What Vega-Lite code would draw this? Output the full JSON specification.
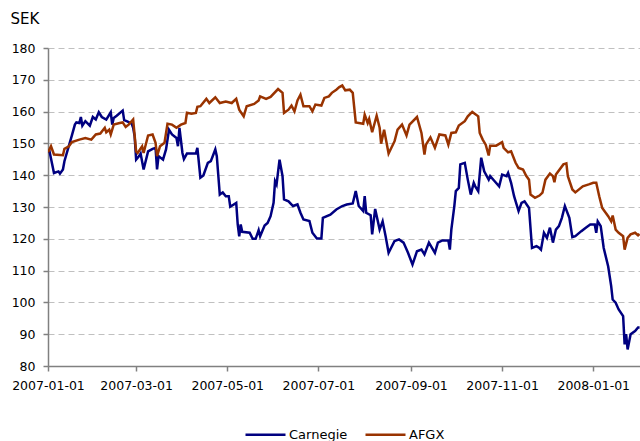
{
  "$schema": "https://vega.github.io/schema/vega-lite/v6.json",
  "autosize": {"type": "none"},
  "width": 592,
  "height": 318,
  "padding": {"left": 48, "top": 48, "right": 0, "bottom": 75},
  "background": "white",
  "config": {
    "view": {"stroke": null},
    "font": "DejaVu Sans"
  },
  "data": {
    "values": [
      {"date": "2007/01/01", "s": "Carnegie", "v": 147.5},
      {"date": "2007/01/02", "s": "Carnegie", "v": 147.5},
      {"date": "2007/01/05", "s": "Carnegie", "v": 140.7},
      {"date": "2007/01/08", "s": "Carnegie", "v": 141.2},
      {"date": "2007/01/09", "s": "Carnegie", "v": 140.5},
      {"date": "2007/01/11", "s": "Carnegie", "v": 141.8},
      {"date": "2007/01/12", "s": "Carnegie", "v": 144.4},
      {"date": "2007/01/17", "s": "Carnegie", "v": 152.5},
      {"date": "2007/01/19", "s": "Carnegie", "v": 155.9},
      {"date": "2007/01/20", "s": "Carnegie", "v": 156.6},
      {"date": "2007/01/22", "s": "Carnegie", "v": 156.4},
      {"date": "2007/01/23", "s": "Carnegie", "v": 158.3},
      {"date": "2007/01/24", "s": "Carnegie", "v": 155.6},
      {"date": "2007/01/26", "s": "Carnegie", "v": 157.0},
      {"date": "2007/01/29", "s": "Carnegie", "v": 155.6},
      {"date": "2007/01/31", "s": "Carnegie", "v": 158.3},
      {"date": "2007/02/02", "s": "Carnegie", "v": 157.5},
      {"date": "2007/02/04", "s": "Carnegie", "v": 159.8},
      {"date": "2007/02/06", "s": "Carnegie", "v": 158.3},
      {"date": "2007/02/09", "s": "Carnegie", "v": 157.5},
      {"date": "2007/02/12", "s": "Carnegie", "v": 159.8},
      {"date": "2007/02/13", "s": "Carnegie", "v": 155.9},
      {"date": "2007/02/14", "s": "Carnegie", "v": 158.0},
      {"date": "2007/02/16", "s": "Carnegie", "v": 158.7},
      {"date": "2007/02/20", "s": "Carnegie", "v": 160.3},
      {"date": "2007/02/21", "s": "Carnegie", "v": 157.3},
      {"date": "2007/02/23", "s": "Carnegie", "v": 156.9},
      {"date": "2007/02/26", "s": "Carnegie", "v": 156.2},
      {"date": "2007/02/27", "s": "Carnegie", "v": 154.9},
      {"date": "2007/02/28", "s": "Carnegie", "v": 152.2},
      {"date": "2007/03/01", "s": "Carnegie", "v": 144.9},
      {"date": "2007/03/03", "s": "Carnegie", "v": 146.0},
      {"date": "2007/03/04", "s": "Carnegie", "v": 146.8},
      {"date": "2007/03/06", "s": "Carnegie", "v": 141.8},
      {"date": "2007/03/09", "s": "Carnegie", "v": 147.5},
      {"date": "2007/03/12", "s": "Carnegie", "v": 148.3},
      {"date": "2007/03/14", "s": "Carnegie", "v": 148.6},
      {"date": "2007/03/15", "s": "Carnegie", "v": 141.8},
      {"date": "2007/03/16", "s": "Carnegie", "v": 146.0},
      {"date": "2007/03/19", "s": "Carnegie", "v": 144.9},
      {"date": "2007/03/21", "s": "Carnegie", "v": 148.1},
      {"date": "2007/03/23", "s": "Carnegie", "v": 154.3},
      {"date": "2007/03/25", "s": "Carnegie", "v": 152.8},
      {"date": "2007/03/28", "s": "Carnegie", "v": 151.7},
      {"date": "2007/03/29", "s": "Carnegie", "v": 149.1},
      {"date": "2007/03/30", "s": "Carnegie", "v": 154.9},
      {"date": "2007/04/01", "s": "Carnegie", "v": 147.0},
      {"date": "2007/04/02", "s": "Carnegie", "v": 145.1},
      {"date": "2007/04/04", "s": "Carnegie", "v": 146.8},
      {"date": "2007/04/10", "s": "Carnegie", "v": 146.8},
      {"date": "2007/04/11", "s": "Carnegie", "v": 148.6},
      {"date": "2007/04/13", "s": "Carnegie", "v": 139.2},
      {"date": "2007/04/15", "s": "Carnegie", "v": 139.9},
      {"date": "2007/04/18", "s": "Carnegie", "v": 143.9},
      {"date": "2007/04/20", "s": "Carnegie", "v": 144.4},
      {"date": "2007/04/23", "s": "Carnegie", "v": 148.1},
      {"date": "2007/04/24", "s": "Carnegie", "v": 146.0},
      {"date": "2007/04/26", "s": "Carnegie", "v": 133.9},
      {"date": "2007/04/28", "s": "Carnegie", "v": 134.6},
      {"date": "2007/04/30", "s": "Carnegie", "v": 133.4},
      {"date": "2007/05/02", "s": "Carnegie", "v": 133.4},
      {"date": "2007/05/03", "s": "Carnegie", "v": 130.1},
      {"date": "2007/05/07", "s": "Carnegie", "v": 131.3},
      {"date": "2007/05/08", "s": "Carnegie", "v": 124.5},
      {"date": "2007/05/09", "s": "Carnegie", "v": 120.8},
      {"date": "2007/05/10", "s": "Carnegie", "v": 124.5},
      {"date": "2007/05/11", "s": "Carnegie", "v": 122.2},
      {"date": "2007/05/16", "s": "Carnegie", "v": 121.9},
      {"date": "2007/05/18", "s": "Carnegie", "v": 120.0},
      {"date": "2007/05/20", "s": "Carnegie", "v": 120.0},
      {"date": "2007/05/22", "s": "Carnegie", "v": 122.7},
      {"date": "2007/05/23", "s": "Carnegie", "v": 120.8},
      {"date": "2007/05/26", "s": "Carnegie", "v": 124.2},
      {"date": "2007/05/28", "s": "Carnegie", "v": 125.0},
      {"date": "2007/05/30", "s": "Carnegie", "v": 127.1},
      {"date": "2007/06/01", "s": "Carnegie", "v": 131.3},
      {"date": "2007/06/02", "s": "Carnegie", "v": 138.1},
      {"date": "2007/06/03", "s": "Carnegie", "v": 137.1},
      {"date": "2007/06/05", "s": "Carnegie", "v": 144.9},
      {"date": "2007/06/07", "s": "Carnegie", "v": 139.7},
      {"date": "2007/06/08", "s": "Carnegie", "v": 132.4},
      {"date": "2007/06/11", "s": "Carnegie", "v": 131.8},
      {"date": "2007/06/14", "s": "Carnegie", "v": 130.3},
      {"date": "2007/06/17", "s": "Carnegie", "v": 130.8},
      {"date": "2007/06/19", "s": "Carnegie", "v": 128.2},
      {"date": "2007/06/21", "s": "Carnegie", "v": 126.1},
      {"date": "2007/06/25", "s": "Carnegie", "v": 125.6},
      {"date": "2007/06/27", "s": "Carnegie", "v": 121.9},
      {"date": "2007/06/30", "s": "Carnegie", "v": 120.1},
      {"date": "2007/07/03", "s": "Carnegie", "v": 120.1},
      {"date": "2007/07/04", "s": "Carnegie", "v": 126.6},
      {"date": "2007/07/09", "s": "Carnegie", "v": 127.6},
      {"date": "2007/07/13", "s": "Carnegie", "v": 129.2},
      {"date": "2007/07/17", "s": "Carnegie", "v": 130.3},
      {"date": "2007/07/20", "s": "Carnegie", "v": 130.8},
      {"date": "2007/07/24", "s": "Carnegie", "v": 131.1},
      {"date": "2007/07/26", "s": "Carnegie", "v": 135.0},
      {"date": "2007/07/28", "s": "Carnegie", "v": 130.3},
      {"date": "2007/07/31", "s": "Carnegie", "v": 128.7},
      {"date": "2007/08/01", "s": "Carnegie", "v": 133.4},
      {"date": "2007/08/02", "s": "Carnegie", "v": 128.2},
      {"date": "2007/08/05", "s": "Carnegie", "v": 127.4},
      {"date": "2007/08/06", "s": "Carnegie", "v": 121.4},
      {"date": "2007/08/08", "s": "Carnegie", "v": 129.4},
      {"date": "2007/08/11", "s": "Carnegie", "v": 122.9},
      {"date": "2007/08/13", "s": "Carnegie", "v": 125.5},
      {"date": "2007/08/15", "s": "Carnegie", "v": 120.8},
      {"date": "2007/08/17", "s": "Carnegie", "v": 115.6},
      {"date": "2007/08/21", "s": "Carnegie", "v": 119.3},
      {"date": "2007/08/24", "s": "Carnegie", "v": 119.8},
      {"date": "2007/08/27", "s": "Carnegie", "v": 118.8},
      {"date": "2007/08/30", "s": "Carnegie", "v": 115.6},
      {"date": "2007/09/02", "s": "Carnegie", "v": 111.9},
      {"date": "2007/09/05", "s": "Carnegie", "v": 116.1},
      {"date": "2007/09/08", "s": "Carnegie", "v": 116.6},
      {"date": "2007/09/10", "s": "Carnegie", "v": 115.1},
      {"date": "2007/09/13", "s": "Carnegie", "v": 118.8},
      {"date": "2007/09/17", "s": "Carnegie", "v": 115.6},
      {"date": "2007/09/19", "s": "Carnegie", "v": 118.8},
      {"date": "2007/09/22", "s": "Carnegie", "v": 119.5},
      {"date": "2007/09/26", "s": "Carnegie", "v": 119.5},
      {"date": "2007/09/27", "s": "Carnegie", "v": 116.6},
      {"date": "2007/09/28", "s": "Carnegie", "v": 122.9},
      {"date": "2007/09/30", "s": "Carnegie", "v": 130.3},
      {"date": "2007/10/01", "s": "Carnegie", "v": 135.0},
      {"date": "2007/10/03", "s": "Carnegie", "v": 136.0},
      {"date": "2007/10/04", "s": "Carnegie", "v": 143.4},
      {"date": "2007/10/07", "s": "Carnegie", "v": 143.9},
      {"date": "2007/10/09", "s": "Carnegie", "v": 138.6},
      {"date": "2007/10/11", "s": "Carnegie", "v": 133.9},
      {"date": "2007/10/13", "s": "Carnegie", "v": 137.6},
      {"date": "2007/10/14", "s": "Carnegie", "v": 136.5},
      {"date": "2007/10/16", "s": "Carnegie", "v": 135.0},
      {"date": "2007/10/18", "s": "Carnegie", "v": 145.5},
      {"date": "2007/10/20", "s": "Carnegie", "v": 141.2},
      {"date": "2007/10/23", "s": "Carnegie", "v": 138.6},
      {"date": "2007/10/24", "s": "Carnegie", "v": 139.7},
      {"date": "2007/10/27", "s": "Carnegie", "v": 138.1},
      {"date": "2007/10/30", "s": "Carnegie", "v": 136.5},
      {"date": "2007/11/01", "s": "Carnegie", "v": 140.2},
      {"date": "2007/11/04", "s": "Carnegie", "v": 139.7},
      {"date": "2007/11/05", "s": "Carnegie", "v": 140.7},
      {"date": "2007/11/07", "s": "Carnegie", "v": 137.6},
      {"date": "2007/11/09", "s": "Carnegie", "v": 133.4},
      {"date": "2007/11/12", "s": "Carnegie", "v": 128.7},
      {"date": "2007/11/14", "s": "Carnegie", "v": 131.3},
      {"date": "2007/11/16", "s": "Carnegie", "v": 131.8},
      {"date": "2007/11/19", "s": "Carnegie", "v": 129.7},
      {"date": "2007/11/21", "s": "Carnegie", "v": 117.1},
      {"date": "2007/11/24", "s": "Carnegie", "v": 117.7},
      {"date": "2007/11/26", "s": "Carnegie", "v": 117.1},
      {"date": "2007/11/27", "s": "Carnegie", "v": 116.6},
      {"date": "2007/11/29", "s": "Carnegie", "v": 121.9},
      {"date": "2007/12/01", "s": "Carnegie", "v": 120.3},
      {"date": "2007/12/03", "s": "Carnegie", "v": 123.5},
      {"date": "2007/12/05", "s": "Carnegie", "v": 118.8},
      {"date": "2007/12/07", "s": "Carnegie", "v": 122.9},
      {"date": "2007/12/09", "s": "Carnegie", "v": 124.0},
      {"date": "2007/12/11", "s": "Carnegie", "v": 126.6},
      {"date": "2007/12/13", "s": "Carnegie", "v": 130.3},
      {"date": "2007/12/16", "s": "Carnegie", "v": 126.6},
      {"date": "2007/12/18", "s": "Carnegie", "v": 120.5},
      {"date": "2007/12/20", "s": "Carnegie", "v": 120.8},
      {"date": "2007/12/24", "s": "Carnegie", "v": 122.4},
      {"date": "2007/12/27", "s": "Carnegie", "v": 123.5},
      {"date": "2007/12/30", "s": "Carnegie", "v": 124.5},
      {"date": "2008/01/02", "s": "Carnegie", "v": 124.5},
      {"date": "2008/01/03", "s": "Carnegie", "v": 121.9},
      {"date": "2008/01/04", "s": "Carnegie", "v": 125.5},
      {"date": "2008/01/06", "s": "Carnegie", "v": 124.0},
      {"date": "2008/01/08", "s": "Carnegie", "v": 117.1},
      {"date": "2008/01/11", "s": "Carnegie", "v": 111.3},
      {"date": "2008/01/13", "s": "Carnegie", "v": 105.1},
      {"date": "2008/01/14", "s": "Carnegie", "v": 100.9},
      {"date": "2008/01/16", "s": "Carnegie", "v": 99.9},
      {"date": "2008/01/18", "s": "Carnegie", "v": 97.8},
      {"date": "2008/01/21", "s": "Carnegie", "v": 95.7},
      {"date": "2008/01/22", "s": "Carnegie", "v": 86.8},
      {"date": "2008/01/23", "s": "Carnegie", "v": 90.0},
      {"date": "2008/01/24", "s": "Carnegie", "v": 85.2},
      {"date": "2008/01/26", "s": "Carnegie", "v": 90.0},
      {"date": "2008/01/29", "s": "Carnegie", "v": 91.0},
      {"date": "2008/01/31", "s": "Carnegie", "v": 92.1},
      {"date": "2008/02/01", "s": "Carnegie", "v": 92.1},

      {"date": "2007/01/01", "s": "AFGX", "v": 147.2},
      {"date": "2007/01/03", "s": "AFGX", "v": 149.1},
      {"date": "2007/01/05", "s": "AFGX", "v": 146.5},
      {"date": "2007/01/11", "s": "AFGX", "v": 146.3},
      {"date": "2007/01/12", "s": "AFGX", "v": 148.3},
      {"date": "2007/01/15", "s": "AFGX", "v": 149.1},
      {"date": "2007/01/17", "s": "AFGX", "v": 150.4},
      {"date": "2007/01/22", "s": "AFGX", "v": 151.2},
      {"date": "2007/01/26", "s": "AFGX", "v": 151.7},
      {"date": "2007/01/30", "s": "AFGX", "v": 151.2},
      {"date": "2007/02/02", "s": "AFGX", "v": 152.8},
      {"date": "2007/02/05", "s": "AFGX", "v": 153.1},
      {"date": "2007/02/08", "s": "AFGX", "v": 154.9},
      {"date": "2007/02/09", "s": "AFGX", "v": 153.5},
      {"date": "2007/02/11", "s": "AFGX", "v": 154.3},
      {"date": "2007/02/12", "s": "AFGX", "v": 152.8},
      {"date": "2007/02/14", "s": "AFGX", "v": 155.9},
      {"date": "2007/02/18", "s": "AFGX", "v": 156.4},
      {"date": "2007/02/20", "s": "AFGX", "v": 156.6},
      {"date": "2007/02/22", "s": "AFGX", "v": 155.2},
      {"date": "2007/02/24", "s": "AFGX", "v": 155.9},
      {"date": "2007/02/27", "s": "AFGX", "v": 157.5},
      {"date": "2007/03/01", "s": "AFGX", "v": 147.5},
      {"date": "2007/03/02", "s": "AFGX", "v": 147.0},
      {"date": "2007/03/05", "s": "AFGX", "v": 149.1},
      {"date": "2007/03/06", "s": "AFGX", "v": 147.0},
      {"date": "2007/03/09", "s": "AFGX", "v": 152.5},
      {"date": "2007/03/12", "s": "AFGX", "v": 152.8},
      {"date": "2007/03/14", "s": "AFGX", "v": 150.2},
      {"date": "2007/03/15", "s": "AFGX", "v": 146.0},
      {"date": "2007/03/17", "s": "AFGX", "v": 149.1},
      {"date": "2007/03/20", "s": "AFGX", "v": 150.2},
      {"date": "2007/03/22", "s": "AFGX", "v": 156.2},
      {"date": "2007/03/25", "s": "AFGX", "v": 155.9},
      {"date": "2007/03/28", "s": "AFGX", "v": 154.9},
      {"date": "2007/03/31", "s": "AFGX", "v": 155.9},
      {"date": "2007/04/03", "s": "AFGX", "v": 156.4},
      {"date": "2007/04/04", "s": "AFGX", "v": 159.6},
      {"date": "2007/04/07", "s": "AFGX", "v": 159.3},
      {"date": "2007/04/10", "s": "AFGX", "v": 159.6},
      {"date": "2007/04/11", "s": "AFGX", "v": 161.5},
      {"date": "2007/04/13", "s": "AFGX", "v": 161.7},
      {"date": "2007/04/17", "s": "AFGX", "v": 164.0},
      {"date": "2007/04/19", "s": "AFGX", "v": 162.7},
      {"date": "2007/04/23", "s": "AFGX", "v": 164.5},
      {"date": "2007/04/26", "s": "AFGX", "v": 162.7},
      {"date": "2007/04/30", "s": "AFGX", "v": 163.2},
      {"date": "2007/05/04", "s": "AFGX", "v": 162.7},
      {"date": "2007/05/07", "s": "AFGX", "v": 164.0},
      {"date": "2007/05/09", "s": "AFGX", "v": 160.6},
      {"date": "2007/05/12", "s": "AFGX", "v": 158.5},
      {"date": "2007/05/14", "s": "AFGX", "v": 161.7},
      {"date": "2007/05/19", "s": "AFGX", "v": 162.4},
      {"date": "2007/05/22", "s": "AFGX", "v": 163.5},
      {"date": "2007/05/23", "s": "AFGX", "v": 164.8},
      {"date": "2007/05/27", "s": "AFGX", "v": 164.0},
      {"date": "2007/05/30", "s": "AFGX", "v": 164.6},
      {"date": "2007/06/04", "s": "AFGX", "v": 167.1},
      {"date": "2007/06/07", "s": "AFGX", "v": 165.9},
      {"date": "2007/06/08", "s": "AFGX", "v": 159.6},
      {"date": "2007/06/11", "s": "AFGX", "v": 160.6},
      {"date": "2007/06/13", "s": "AFGX", "v": 161.9},
      {"date": "2007/06/15", "s": "AFGX", "v": 160.1},
      {"date": "2007/06/17", "s": "AFGX", "v": 163.5},
      {"date": "2007/06/19", "s": "AFGX", "v": 165.3},
      {"date": "2007/06/21", "s": "AFGX", "v": 161.7},
      {"date": "2007/06/25", "s": "AFGX", "v": 161.7},
      {"date": "2007/06/27", "s": "AFGX", "v": 160.1},
      {"date": "2007/06/29", "s": "AFGX", "v": 162.2},
      {"date": "2007/07/03", "s": "AFGX", "v": 161.9},
      {"date": "2007/07/05", "s": "AFGX", "v": 164.3},
      {"date": "2007/07/08", "s": "AFGX", "v": 164.8},
      {"date": "2007/07/10", "s": "AFGX", "v": 165.9},
      {"date": "2007/07/13", "s": "AFGX", "v": 166.9},
      {"date": "2007/07/15", "s": "AFGX", "v": 167.7},
      {"date": "2007/07/17", "s": "AFGX", "v": 168.2},
      {"date": "2007/07/19", "s": "AFGX", "v": 166.7},
      {"date": "2007/07/22", "s": "AFGX", "v": 166.9},
      {"date": "2007/07/24", "s": "AFGX", "v": 165.9},
      {"date": "2007/07/26", "s": "AFGX", "v": 156.6},
      {"date": "2007/07/31", "s": "AFGX", "v": 156.2},
      {"date": "2007/08/01", "s": "AFGX", "v": 159.0},
      {"date": "2007/08/03", "s": "AFGX", "v": 156.4},
      {"date": "2007/08/04", "s": "AFGX", "v": 157.7},
      {"date": "2007/08/06", "s": "AFGX", "v": 153.5},
      {"date": "2007/08/09", "s": "AFGX", "v": 158.7},
      {"date": "2007/08/11", "s": "AFGX", "v": 154.9},
      {"date": "2007/08/12", "s": "AFGX", "v": 149.9},
      {"date": "2007/08/14", "s": "AFGX", "v": 154.3},
      {"date": "2007/08/17", "s": "AFGX", "v": 146.8},
      {"date": "2007/08/21", "s": "AFGX", "v": 150.7},
      {"date": "2007/08/23", "s": "AFGX", "v": 154.3},
      {"date": "2007/08/26", "s": "AFGX", "v": 155.9},
      {"date": "2007/08/29", "s": "AFGX", "v": 152.5},
      {"date": "2007/08/31", "s": "AFGX", "v": 155.9},
      {"date": "2007/09/05", "s": "AFGX", "v": 158.3},
      {"date": "2007/09/08", "s": "AFGX", "v": 153.3},
      {"date": "2007/09/10", "s": "AFGX", "v": 146.5},
      {"date": "2007/09/11", "s": "AFGX", "v": 149.6},
      {"date": "2007/09/14", "s": "AFGX", "v": 151.9},
      {"date": "2007/09/17", "s": "AFGX", "v": 148.6},
      {"date": "2007/09/20", "s": "AFGX", "v": 152.8},
      {"date": "2007/09/24", "s": "AFGX", "v": 152.5},
      {"date": "2007/09/26", "s": "AFGX", "v": 149.6},
      {"date": "2007/09/28", "s": "AFGX", "v": 153.3},
      {"date": "2007/10/01", "s": "AFGX", "v": 153.5},
      {"date": "2007/10/03", "s": "AFGX", "v": 155.6},
      {"date": "2007/10/07", "s": "AFGX", "v": 157.0},
      {"date": "2007/10/09", "s": "AFGX", "v": 158.5},
      {"date": "2007/10/12", "s": "AFGX", "v": 159.9},
      {"date": "2007/10/16", "s": "AFGX", "v": 158.5},
      {"date": "2007/10/17", "s": "AFGX", "v": 153.3},
      {"date": "2007/10/19", "s": "AFGX", "v": 151.2},
      {"date": "2007/10/21", "s": "AFGX", "v": 149.6},
      {"date": "2007/10/23", "s": "AFGX", "v": 146.2},
      {"date": "2007/10/24", "s": "AFGX", "v": 149.3},
      {"date": "2007/10/28", "s": "AFGX", "v": 149.3},
      {"date": "2007/11/01", "s": "AFGX", "v": 150.4},
      {"date": "2007/11/02", "s": "AFGX", "v": 148.6},
      {"date": "2007/11/05", "s": "AFGX", "v": 147.2},
      {"date": "2007/11/07", "s": "AFGX", "v": 147.5},
      {"date": "2007/11/10", "s": "AFGX", "v": 143.9},
      {"date": "2007/11/12", "s": "AFGX", "v": 142.3},
      {"date": "2007/11/15", "s": "AFGX", "v": 141.8},
      {"date": "2007/11/17", "s": "AFGX", "v": 139.9},
      {"date": "2007/11/19", "s": "AFGX", "v": 138.6},
      {"date": "2007/11/20", "s": "AFGX", "v": 133.9},
      {"date": "2007/11/23", "s": "AFGX", "v": 132.9},
      {"date": "2007/11/26", "s": "AFGX", "v": 133.6},
      {"date": "2007/11/28", "s": "AFGX", "v": 134.5},
      {"date": "2007/11/30", "s": "AFGX", "v": 138.6},
      {"date": "2007/12/03", "s": "AFGX", "v": 140.5},
      {"date": "2007/12/05", "s": "AFGX", "v": 139.7},
      {"date": "2007/12/06", "s": "AFGX", "v": 137.8},
      {"date": "2007/12/07", "s": "AFGX", "v": 140.2},
      {"date": "2007/12/12", "s": "AFGX", "v": 143.4},
      {"date": "2007/12/14", "s": "AFGX", "v": 143.7},
      {"date": "2007/12/15", "s": "AFGX", "v": 139.7},
      {"date": "2007/12/18", "s": "AFGX", "v": 135.5},
      {"date": "2007/12/20", "s": "AFGX", "v": 134.6},
      {"date": "2007/12/25", "s": "AFGX", "v": 136.5},
      {"date": "2007/12/29", "s": "AFGX", "v": 137.1},
      {"date": "2008/01/01", "s": "AFGX", "v": 137.6},
      {"date": "2008/01/03", "s": "AFGX", "v": 137.6},
      {"date": "2008/01/05", "s": "AFGX", "v": 133.4},
      {"date": "2008/01/07", "s": "AFGX", "v": 129.7},
      {"date": "2008/01/11", "s": "AFGX", "v": 127.1},
      {"date": "2008/01/13", "s": "AFGX", "v": 125.5},
      {"date": "2008/01/14", "s": "AFGX", "v": 127.3},
      {"date": "2008/01/16", "s": "AFGX", "v": 122.9},
      {"date": "2008/01/18", "s": "AFGX", "v": 121.9},
      {"date": "2008/01/21", "s": "AFGX", "v": 120.8},
      {"date": "2008/01/22", "s": "AFGX", "v": 116.6},
      {"date": "2008/01/24", "s": "AFGX", "v": 120.3},
      {"date": "2008/01/26", "s": "AFGX", "v": 121.4},
      {"date": "2008/01/29", "s": "AFGX", "v": 121.9},
      {"date": "2008/01/31", "s": "AFGX", "v": 121.1},
      {"date": "2008/02/01", "s": "AFGX", "v": 121.5}
    ]
  },
  "mark": {"type": "line", "strokeWidth": 2.5, "clip": true},
  "encoding": {
    "x": {
      "field": "date",
      "type": "temporal",
      "scale": {
        "domain": [
          {"year": 2007, "month": 1, "date": 1},
          {"year": 2008, "month": 2, "date": 1, "hours": 7}
        ]
      },
      "axis": {
        "title": null,
        "format": "%Y-%m-%d",
        "values": [
          {"year": 2007, "month": 1, "date": 1},
          {"year": 2007, "month": 3, "date": 1},
          {"year": 2007, "month": 5, "date": 1},
          {"year": 2007, "month": 7, "date": 1},
          {"year": 2007, "month": 9, "date": 1},
          {"year": 2007, "month": 11, "date": 1},
          {"year": 2008, "month": 1, "date": 1}
        ],
        "grid": false,
        "domainColor": "#808080",
        "domainWidth": 1.5,
        "tickColor": "#808080",
        "tickSize": 5,
        "tickWidth": 1.5,
        "labelFontSize": 12.5,
        "labelColor": "#000000",
        "labelPadding": 8,
        "labelFlush": false,
        "labelOverlap": false
      }
    },
    "y": {
      "field": "v",
      "type": "quantitative",
      "scale": {"domain": [80, 180], "nice": false, "zero": false},
      "axis": {
        "title": "SEK",
        "titleAngle": 0,
        "titleX": -38,
        "titleY": -25,
        "titleAlign": "left",
        "titleBaseline": "alphabetic",
        "titleFontSize": 15,
        "titleFontWeight": "normal",
        "titleColor": "#000000",
        "values": [80, 90, 100, 110, 120, 130, 140, 150, 160, 170, 180],
        "grid": true,
        "gridColor": "#c0c0c0",
        "gridDash": [6, 4],
        "gridWidth": 1,
        "domainColor": "#808080",
        "domainWidth": 1.5,
        "tickColor": "#808080",
        "tickSize": 5,
        "tickWidth": 1.5,
        "labelFontSize": 12.5,
        "labelColor": "#000000",
        "labelPadding": 8
      }
    },
    "color": {
      "field": "s",
      "type": "nominal",
      "sort": ["Carnegie", "AFGX"],
      "scale": {"domain": ["Carnegie", "AFGX"], "range": ["#000080", "#993300"]},
      "legend": {
        "title": null,
        "orient": "none",
        "direction": "horizontal",
        "legendX": 196,
        "legendY": 365,
        "padding": 0,
        "symbolType": "stroke",
        "symbolSize": 1600,
        "symbolStrokeWidth": 2.5,
        "labelFontSize": 13,
        "labelColor": "#000000",
        "labelOffset": 2,
        "columnPadding": 12
      }
    }
  }
}
